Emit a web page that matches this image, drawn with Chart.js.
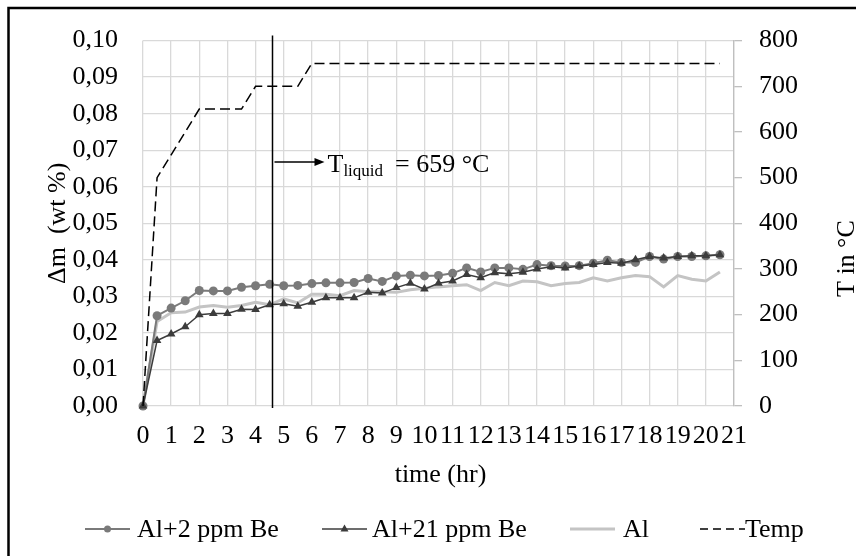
<!DOCTYPE html>
<html>
<head>
<meta charset="utf-8">
<title>Mass gain vs time</title>
<script src="https://cdn.jsdelivr.net/npm/chart.js@4.4.1/dist/chart.umd.min.js"></script>
<style>
    html, body { margin: 0; padding: 0; background: #fff; }
    #wrap { width: 856px; height: 556px; }
</style>
</head>
<body>
<div id="wrap"><canvas id="massChart" width="856" height="556"></canvas></div>
<script>
/* ========================================
   Mass gain (wt %) and temperature vs time
   ======================================== */

// Sampling times (hr)
const timeHr = [0, 0.5, 1, 1.5, 2, 2.5, 3, 3.5, 4, 4.5,
    5, 5.5, 6, 6.5, 7, 7.5, 8, 8.5, 9, 9.5,
    10, 10.5, 11, 11.5, 12, 12.5, 13, 13.5, 14, 14.5,
    15, 15.5, 16, 16.5, 17, 17.5, 18, 18.5, 19, 19.5,
    20, 20.5];

// Mass change, wt %
const massBe2 = [0, 0.0247, 0.0268, 0.0288, 0.0316, 0.0315, 0.0315, 0.0325, 0.0329, 0.0333,
    0.0329, 0.0330, 0.0335, 0.0337, 0.0337, 0.0338, 0.0349, 0.0341, 0.0356, 0.0358,
    0.0356, 0.0357, 0.0363, 0.0378, 0.0367, 0.0378, 0.0378, 0.0374, 0.0387, 0.0384,
    0.0383, 0.0384, 0.0391, 0.0399, 0.0393, 0.0393, 0.0409, 0.0402, 0.0409, 0.0409,
    0.0411, 0.0414];

const massBe21 = [0, 0.0179, 0.0197, 0.0217, 0.0250, 0.0253, 0.0253, 0.0265, 0.0264, 0.0277,
    0.0280, 0.0273, 0.0284, 0.0296, 0.0296, 0.0296, 0.0311, 0.0309, 0.0324, 0.0336,
    0.0320, 0.0336, 0.0342, 0.0360, 0.0351, 0.0365, 0.0362, 0.0366, 0.0375, 0.0381,
    0.0378, 0.0383, 0.0387, 0.0393, 0.0391, 0.0400, 0.0409, 0.0405, 0.0409, 0.0411,
    0.0411, 0.0414];

const massAl = [0, 0.0231, 0.0255, 0.0257, 0.0271, 0.0275, 0.0270, 0.0275, 0.0284, 0.0277,
    0.0293, 0.0282, 0.0306, 0.0306, 0.0302, 0.0316, 0.0313, 0.0313, 0.0311, 0.0318,
    0.0322, 0.0326, 0.0329, 0.0332, 0.0316, 0.0338, 0.0329, 0.0342, 0.0340, 0.0329,
    0.0335, 0.0338, 0.0351, 0.0342, 0.0351, 0.0357, 0.0354, 0.0326, 0.0357, 0.0347,
    0.0342, 0.0367];

// Furnace temperature, °C
const tempC = [0, 500, 550, 600, 650, 650, 650, 650, 700, 700,
    700, 700, 750, 750, 750, 750, 750, 750, 750, 750,
    750, 750, 750, 750, 750, 750, 750, 750, 750, 750,
    750, 750, 750, 750, 750, 750, 750, 750, 750, 750,
    750, 750];

// Tick labels
const xTickLabels = ['0', '1', '2', '3', '4', '5', '6', '7', '8', '9', '10',
    '11', '12', '13', '14', '15', '16', '17', '18', '19', '20', '21'];
const yTickLabels = ['0,00', '0,01', '0,02', '0,03', '0,04', '0,05',
    '0,06', '0,07', '0,08', '0,09', '0,10'];
const y2TickLabels = ['0', '100', '200', '300', '400', '500', '600', '700', '800'];

const seriesNames = ['Al+2 ppm Be', 'Al+21 ppm Be', 'Al', 'Temp'];

// Liquidus marker
const liquidusTime = 4.57;
const liquidusText = ['T', 'liquid', '= 659 °C'];

const FONT = "'Liberation Serif', 'Times New Roman', serif";

function toPoints(values) {
    return timeHr.map((t, i) => ({ x: t, y: values[i] }));
}

// Frame, titles, liquidus arrow and legend
const decorPlugin = {
    id: 'decor',
    beforeDraw(chart) {
        const c = chart.ctx;
        c.save();
        c.fillStyle = '#fff';
        c.fillRect(0, 0, chart.width, chart.height);
        c.restore();
    },
    afterDraw(chart) {
        const c = chart.ctx;
        const area = chart.chartArea;
        const xs = chart.scales.x;
        c.save();

        // outer frame (runs off the right and bottom)
        c.strokeStyle = '#000';
        c.lineWidth = 2.5;
        c.strokeRect(8.5, 8, 1000, 700);

        // axis titles
        c.fillStyle = '#000';
        c.font = '26px ' + FONT;
        c.textAlign = 'center';
        c.textBaseline = 'alphabetic';
        c.fillText('time (hr)', (area.left + area.right) / 2 + 2, 482);

        c.save();
        c.translate(65, (area.top + area.bottom) / 2);
        c.rotate(-Math.PI / 2);
        c.fillText('\u0394m  (wt %)', 0, 0);
        c.restore();

        c.save();
        c.translate(854, 297);
        c.rotate(-Math.PI / 2);
        c.textAlign = 'left';
        c.fillText('T in °C', 0, 0);
        c.restore();

        // liquidus line + arrow + label
        const lx = Math.round(xs.getPixelForValue(liquidusTime)) + 0.5;
        c.strokeStyle = '#000';
        c.lineWidth = 1.5;
        c.beginPath();
        c.moveTo(lx, area.top - 5);
        c.lineTo(lx, area.bottom + 2);
        c.stroke();

        const ay = 162;
        c.lineWidth = 1.3;
        c.beginPath();
        c.moveTo(lx + 2, ay);
        c.lineTo(lx + 44, ay);
        c.stroke();
        c.beginPath();
        c.moveTo(lx + 52, ay);
        c.lineTo(lx + 42, ay - 4);
        c.lineTo(lx + 42, ay + 4);
        c.closePath();
        c.fill();

        c.textAlign = 'left';
        let tx = lx + 55;
        c.font = '26px ' + FONT;
        c.fillText(liquidusText[0], tx, 172);
        tx += c.measureText(liquidusText[0]).width;
        c.font = '17px ' + FONT;
        c.fillText(liquidusText[1], tx, 176);
        c.font = '26px ' + FONT;
        c.fillText(liquidusText[2], 395, 172);

        // legend
        const ly = 529;
        const lineStarts = [85, 322, 570, 700];
        const textStarts = [137, 372, 623, 745];
        const dsOrder = [0, 1, 2, 3];
        c.font = '26px ' + FONT;
        c.textBaseline = 'middle';
        dsOrder.forEach((di, k) => {
            const ds = chart.data.datasets[di];
            const x0 = lineStarts[k];
            const x1 = x0 + 45;
            c.save();
            c.strokeStyle = ds.borderColor;
            c.lineWidth = ds.borderWidth;
            if (ds.borderDash) c.setLineDash([8, 5]);
            c.beginPath();
            c.moveTo(x0, ly);
            c.lineTo(x1, ly);
            c.stroke();
            c.restore();

            const mx = (x0 + x1) / 2;
            c.fillStyle = ds.pointBackgroundColor || ds.borderColor;
            if (ds.pointStyle === 'circle' && ds.pointRadius > 0) {
                c.beginPath();
                c.arc(mx, ly, 3.5, 0, Math.PI * 2);
                c.fill();
            } else if (ds.pointStyle === 'triangle') {
                c.beginPath();
                c.moveTo(mx, ly - 4.5);
                c.lineTo(mx + 4, ly + 2.5);
                c.lineTo(mx - 4, ly + 2.5);
                c.closePath();
                c.fill();
            }
            c.fillStyle = '#000';
            c.fillText(seriesNames[di], textStarts[k], ly + 1);
        });

        c.restore();
    }
};

const tickFont = { family: FONT, size: 26 };

new Chart(document.getElementById('massChart'), {
    type: 'line',
    data: {
        datasets: [
            {
                label: seriesNames[0],
                data: toPoints(massBe2),
                yAxisID: 'y',
                borderColor: '#7a7a7a',
                borderWidth: 2,
                pointStyle: 'circle',
                pointRadius: 4.5,
                pointBackgroundColor: '#7a7a7a',
                pointBorderWidth: 0,
                clip: false,
                order: 3
            },
            {
                label: seriesNames[1],
                data: toPoints(massBe21),
                yAxisID: 'y',
                borderColor: '#3c3c3c',
                borderWidth: 1.5,
                pointStyle: 'triangle',
                pointRadius: 5,
                pointBackgroundColor: '#3c3c3c',
                pointBorderWidth: 0,
                clip: false,
                order: 2
            },
            {
                label: seriesNames[2],
                data: toPoints(massAl),
                yAxisID: 'y',
                borderColor: '#c4c4c4',
                borderWidth: 3,
                pointRadius: 0,
                clip: false,
                order: 4
            },
            {
                label: seriesNames[3],
                data: toPoints(tempC),
                yAxisID: 'y1',
                borderColor: '#000',
                borderWidth: 1.5,
                borderDash: [10, 5],
                pointRadius: 0,
                clip: false,
                order: 1
            }
        ]
    },
    options: {
        responsive: false,
        animation: false,
        devicePixelRatio: 1,
        layout: { padding: { top: 33, left: 0, right: 0, bottom: 0 } },
        plugins: {
            legend: { display: false },
            tooltip: { enabled: false }
        },
        elements: { line: { tension: 0 } },
        scales: {
            x: {
                type: 'linear',
                min: 0,
                max: 21,
                ticks: {
                    stepSize: 1,
                    autoSkip: false,
                    maxRotation: 0,
                    minRotation: 0,
                    padding: 15,
                    color: '#000',
                    font: tickFont,
                    callback: (v) => xTickLabels[v] ?? ''
                },
                grid: { color: '#d9d9d9', lineWidth: 1.3, drawTicks: false },
                border: { display: false },
                afterFit: (s) => { s.height = 150; }
            },
            y: {
                position: 'left',
                min: 0,
                max: 0.1,
                ticks: {
                    stepSize: 0.01,
                    padding: 25,
                    color: '#000',
                    font: tickFont,
                    callback: (v, i) => yTickLabels[i]
                },
                grid: { color: '#d9d9d9', lineWidth: 1.3, drawTicks: false },
                border: { display: false },
                afterFit: (s) => { s.width = 143; }
            },
            y1: {
                position: 'right',
                min: 0,
                max: 800,
                ticks: {
                    stepSize: 100,
                    padding: 17,
                    color: '#000',
                    font: tickFont,
                    callback: (v, i) => y2TickLabels[i]
                },
                grid: { drawOnChartArea: false, drawTicks: true, tickLength: 8, color: '#bfbfbf', lineWidth: 1.3 },
                border: { display: true, color: '#bfbfbf', width: 1.3 },
                afterFit: (s) => { s.width = 122; }
            }
        }
    },
    plugins: [decorPlugin]
});
</script>
</body>
</html>
